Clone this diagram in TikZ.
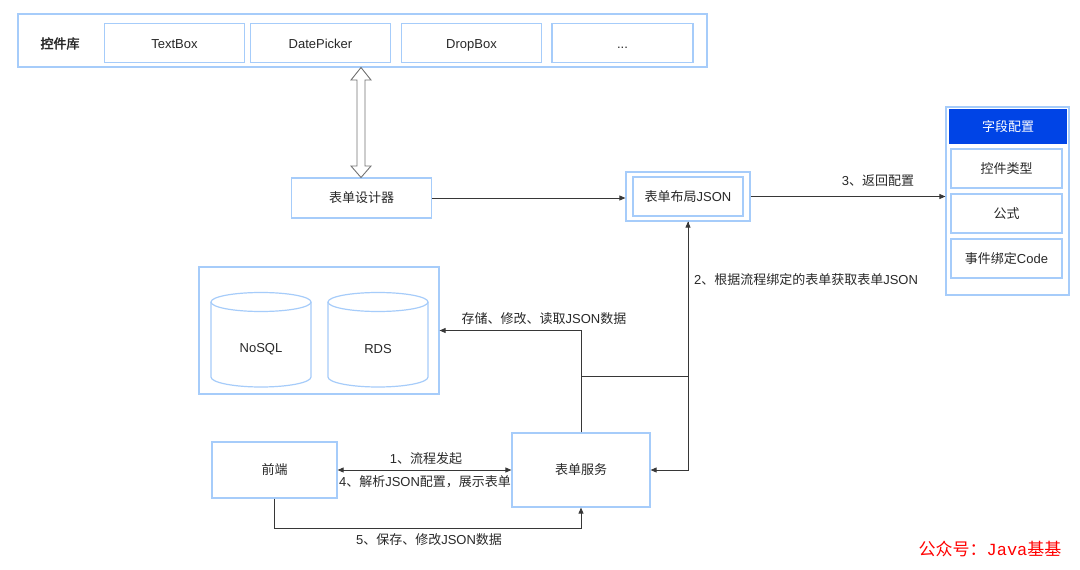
\documentclass[tikz,border=0pt]{standalone}
\usepackage{fontspec}
\setmainfont{Liberation Sans}
\newfontfamily\cjk{Noto Sans CJK SC}
\newfontfamily\cjkb[FakeBold=2.5]{Noto Sans CJK SC}
\newfontfamily\wmmono{Liberation Mono}
\usetikzlibrary{arrows.meta}
\definecolor{bb}{RGB}{166,204,250}
\definecolor{hdr}{RGB}{0,68,230}
\definecolor{ln}{RGB}{55,55,55}
\definecolor{tx}{RGB}{40,40,40}
\begin{document}
\begin{tikzpicture}[x=1pt,y=-1pt,
  box/.style={draw=bb, line width=1.2pt, fill=white, inner sep=0pt,
    font=\fontsize{13}{15}\selectfont, text=tx},
  libbox/.style={box, minimum width=140pt, minimum height=39pt, text height=13pt, text depth=2pt},
  tip/.style={-{Triangle[length=6pt,width=5pt]}},
  conn/.style={draw=ln, line width=0.8pt, tip},
  lbl/.style={font=\fontsize{13}{15}\selectfont, text=tx, inner sep=1pt},
  cyl/.style={draw=bb, line width=1.2pt, fill=white}
]
\useasboundingbox (0,0) rectangle (1080,570);

% control library
\node[box, minimum width=689pt, minimum height=53pt] (lib) at (362.5,40.5) {};
\node[lbl] (libname) at (60,43.5) {\cjkb 控件库};
\node[libbox] (tb) at (174.5,43) {TextBox};
\node[libbox] (dp) at (320.5,43) {DatePicker};
\node[libbox] (db2) at (471.5,43) {DropBox};
\node[libbox, minimum width=141pt] (more) at (622.5,43) {...};

% designer
\node[box, minimum width=140pt, minimum height=40pt] (designer) at (361.5,198) {{\cjk 表单设计器}};

% hollow double arrow between library and designer
\draw[draw=black!55, fill=white, line width=0.9pt]
  (361,67.5) -- (371,80) -- (365,80) -- (365,166) -- (371,166) -- (361,177.5)
  -- (351,166) -- (357,166) -- (357,80) -- (351,80) -- cycle;

% form layout JSON
\node[box, minimum width=124pt, minimum height=49pt] (jsonout) at (688,196.5) {};
\node[box, minimum width=110pt, minimum height=39pt] (json) at (688,196.5) {{\cjk 表单布局}JSON};

% field config panel
\node[box, minimum width=123pt, minimum height=188pt] (panel) at (1007.5,201) {};
\node[box, draw=hdr, fill=hdr, text=white, minimum width=116pt, minimum height=33pt] (hdr) at (1008,126.5) {{\cjk 字段配置}};
\node[box, minimum width=111pt, minimum height=39pt] (ctype) at (1006.5,168.5) {{\cjk 控件类型}};
\node[box, minimum width=111pt, minimum height=39pt] (formula) at (1006.5,213.5) {{\cjk 公式}};
\node[box, minimum width=111pt, minimum height=39pt] (evt) at (1006.5,258.5) {{\cjk 事件绑定}Code};

% database container
\node[box, minimum width=240pt, minimum height=127pt] (db) at (319,330.5) {};
\foreach \cx in {261,378}{
  \draw[cyl] (\cx-50,302) -- (\cx-50,377) arc[start angle=180, end angle=360, x radius=50pt, y radius=10pt]
    -- (\cx+50,302);
  \draw[cyl] (\cx,302) ellipse [x radius=50pt, y radius=9.5pt];
}
\node[lbl] (nosql) at (261,349) {NoSQL};
\node[lbl] (rds) at (378,349) {RDS};

% service and frontend
\node[box, minimum width=138pt, minimum height=74pt] (service) at (581,470) {{\cjk 表单服务}};
\node[box, minimum width=125pt, minimum height=56pt] (front) at (274.5,470) {{\cjk 前端}};

% connectors
\draw[conn] (designer.east) -- (designer.east -| jsonout.west);
\draw[conn] (jsonout.east) -- (jsonout.east -| panel.west);
\node[lbl] (l3) at (878,181) {3{\cjk 、返回配置}};

\draw[conn] (service.north) |- (db.east);
\node[lbl] (ls) at (544,319) {{\cjk 存储、修改、读取}JSON{\cjk 数据}};

\coordinate (mid) at (688,376);
\draw[conn] (service.north) |- (mid) -- (jsonout.south);
\draw[conn] (jsonout.south) |- (service.east);
\node[lbl] (l2) at (806,280) {2{\cjk 、根据流程绑定的表单获取表单}JSON};

\draw[conn, {Triangle[length=6pt,width=5pt]}-{Triangle[length=6pt,width=5pt]}] (front.east) -- (service.west);
\node[lbl] (l1) at (426,459) {1{\cjk 、流程发起}};
\node[lbl] (l4) at (425,482) {4{\cjk 、解析}JSON{\cjk 配置，展示表单}};

\coordinate (fb) at (274.5,528);
\draw[conn] (front.south) -- (fb) -| (service.south);
\node[lbl] (l5) at (429,540) {5{\cjk 、保存、修改}JSON{\cjk 数据}};

% watermark
\node[text=red, inner sep=0pt, font=\fontsize{17}{20}\selectfont] (wm) at (990,549) {{\cjk 公众号：}{\wmmono Java}{\cjk 基基}};
\end{tikzpicture}
\end{document}
